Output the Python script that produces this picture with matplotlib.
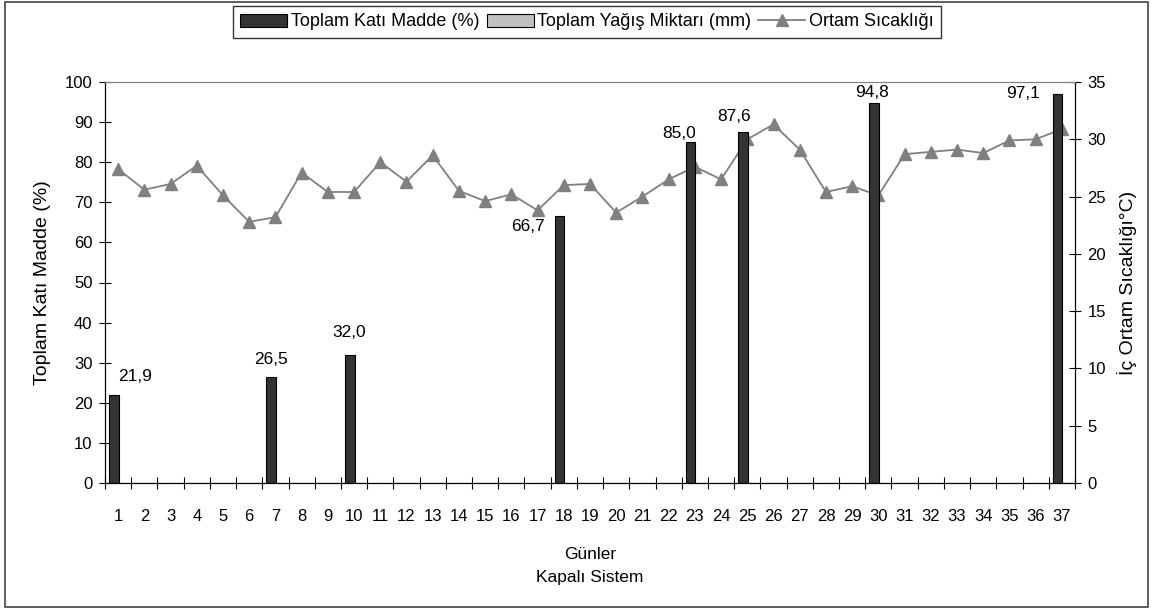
import matplotlib.pyplot as plt
import numpy as np
from matplotlib.patches import Rectangle

plt.rcParams['font.family'] = ['Liberation Sans', 'DejaVu Sans']
plt.rcParams['font.size'] = 12

# günler
gunler = list(range(1, 38))

# toplam katı madde (%) - sadece ölçüm yapılan günler
tkm_gun = [1, 7, 10, 18, 23, 25, 30, 37]
tkm_deger = [21.9, 26.5, 32.0, 66.7, 85.0, 87.6, 94.8, 97.1]

# toplam yağış miktarı (mm) - kapalı sistemde yok
yagis = [0.0] * 37

# iç ortam sıcaklığı (°C)
sicaklik = [27.4, 25.6, 26.1, 27.7, 25.1, 22.8, 23.2, 27.1, 25.4, 25.4,
            28.0, 26.3, 28.6, 25.5, 24.6, 25.2, 23.8, 26.0, 26.1, 23.6,
            25.0, 26.5, 27.6, 26.5, 30.0, 31.3, 29.1, 25.4, 25.9, 25.1,
            28.7, 28.9, 29.1, 28.8, 29.9, 30.0, 30.9]

# etiket kaydırmaları (piksel, çubuk tepesine göre)
etiket_dx = [21, 0, -1, -32, -12, -9, -2, -35]
etiket_dy = [19, 17, 22, -11, 9, 15, 10, 0]

tkm = np.zeros(37)
for g, v in zip(tkm_gun, tkm_deger):
    tkm[g - 1] = v

fig = plt.figure(figsize=(11.57, 6.10), dpi=100)
ax = fig.add_axes([105 / 1157, 1 - 483 / 610, 970 / 1157, 401 / 610])
ax2 = ax.twinx()

x = np.arange(1, 38)
w = 0.36
b1 = ax.bar(x - w / 2 + 0.02, tkm, w, color='#333333', edgecolor='black', linewidth=0.8,
            label='Toplam Katı Madde (%)', zorder=2)
b2 = ax.bar(x + w / 2 + 0.02, yagis, w, color='#c0c0c0', edgecolor='black', linewidth=0.8,
            label='Toplam Yağış Miktarı (mm)', zorder=2)
l1, = ax2.plot(x, sicaklik, color='#808080', marker='^', markersize=8.5,
               linewidth=1.3, label='Ortam Sıcaklığı', zorder=3)

for g, v, dx, dy in zip(tkm_gun, tkm_deger, etiket_dx, etiket_dy):
    ax.annotate(f'{v:.1f}'.replace('.', ','), (g - w / 2 + 0.02, v),
                xytext=(dx * 0.72, dy * 0.72), textcoords='offset points',
                ha='center', va='center', fontsize=12.5)

ax.set_xlim(0.5, 37.5)
ax.set_ylim(0, 100)
ax2.set_ylim(0, 35)
ax.set_yticks(np.arange(0, 101, 10))
ax2.set_yticks(np.arange(0, 36, 5))

# kategori sınırlarında tikler, ortada etiketler
ax.set_xticks(np.arange(0.5, 38, 1))
ax.set_xticklabels([])
ax.set_xticks(x, minor=True)
ax.set_xticklabels([str(g) for g in gunler], minor=True)
ax.tick_params(axis='x', which='major', direction='inout', length=8)
ax.tick_params(axis='x', which='minor', length=0, pad=19)
ax.tick_params(axis='y', direction='inout', length=8, pad=5)
ax2.tick_params(axis='y', direction='inout', length=8, pad=5)

for a in (ax, ax2):
    a.spines['top'].set_color('#808080')
ax.set_zorder(ax2.get_zorder() + 1)
ax.patch.set_visible(False)

ax.set_xlabel('Günler\nKapalı Sistem', labelpad=16, linespacing=1.7, fontsize=12.5)
ax.set_ylabel('Toplam Katı Madde (%)', labelpad=10, fontsize=14)
ax2.set_ylabel('İç Ortam Sıcaklığı°C)', labelpad=8, fontsize=14)

fig.legend([b1, b2, l1], [b1.get_label(), b2.get_label(), l1.get_label()],
           loc='center', bbox_to_anchor=(587 / 1157, 1 - 22 / 610), ncol=3,
           frameon=True, fancybox=False, edgecolor='black', handlelength=2.6,
           handletextpad=0.2, columnspacing=0.4, borderpad=0.4, fontsize=13)

fig.patches.append(Rectangle((5 / 1157, 3 / 610), 1143 / 1157, 605 / 610,
                             transform=fig.transFigure, fill=False,
                             edgecolor='#444444', linewidth=1.2))

fig.savefig('out.png', dpi=100)
